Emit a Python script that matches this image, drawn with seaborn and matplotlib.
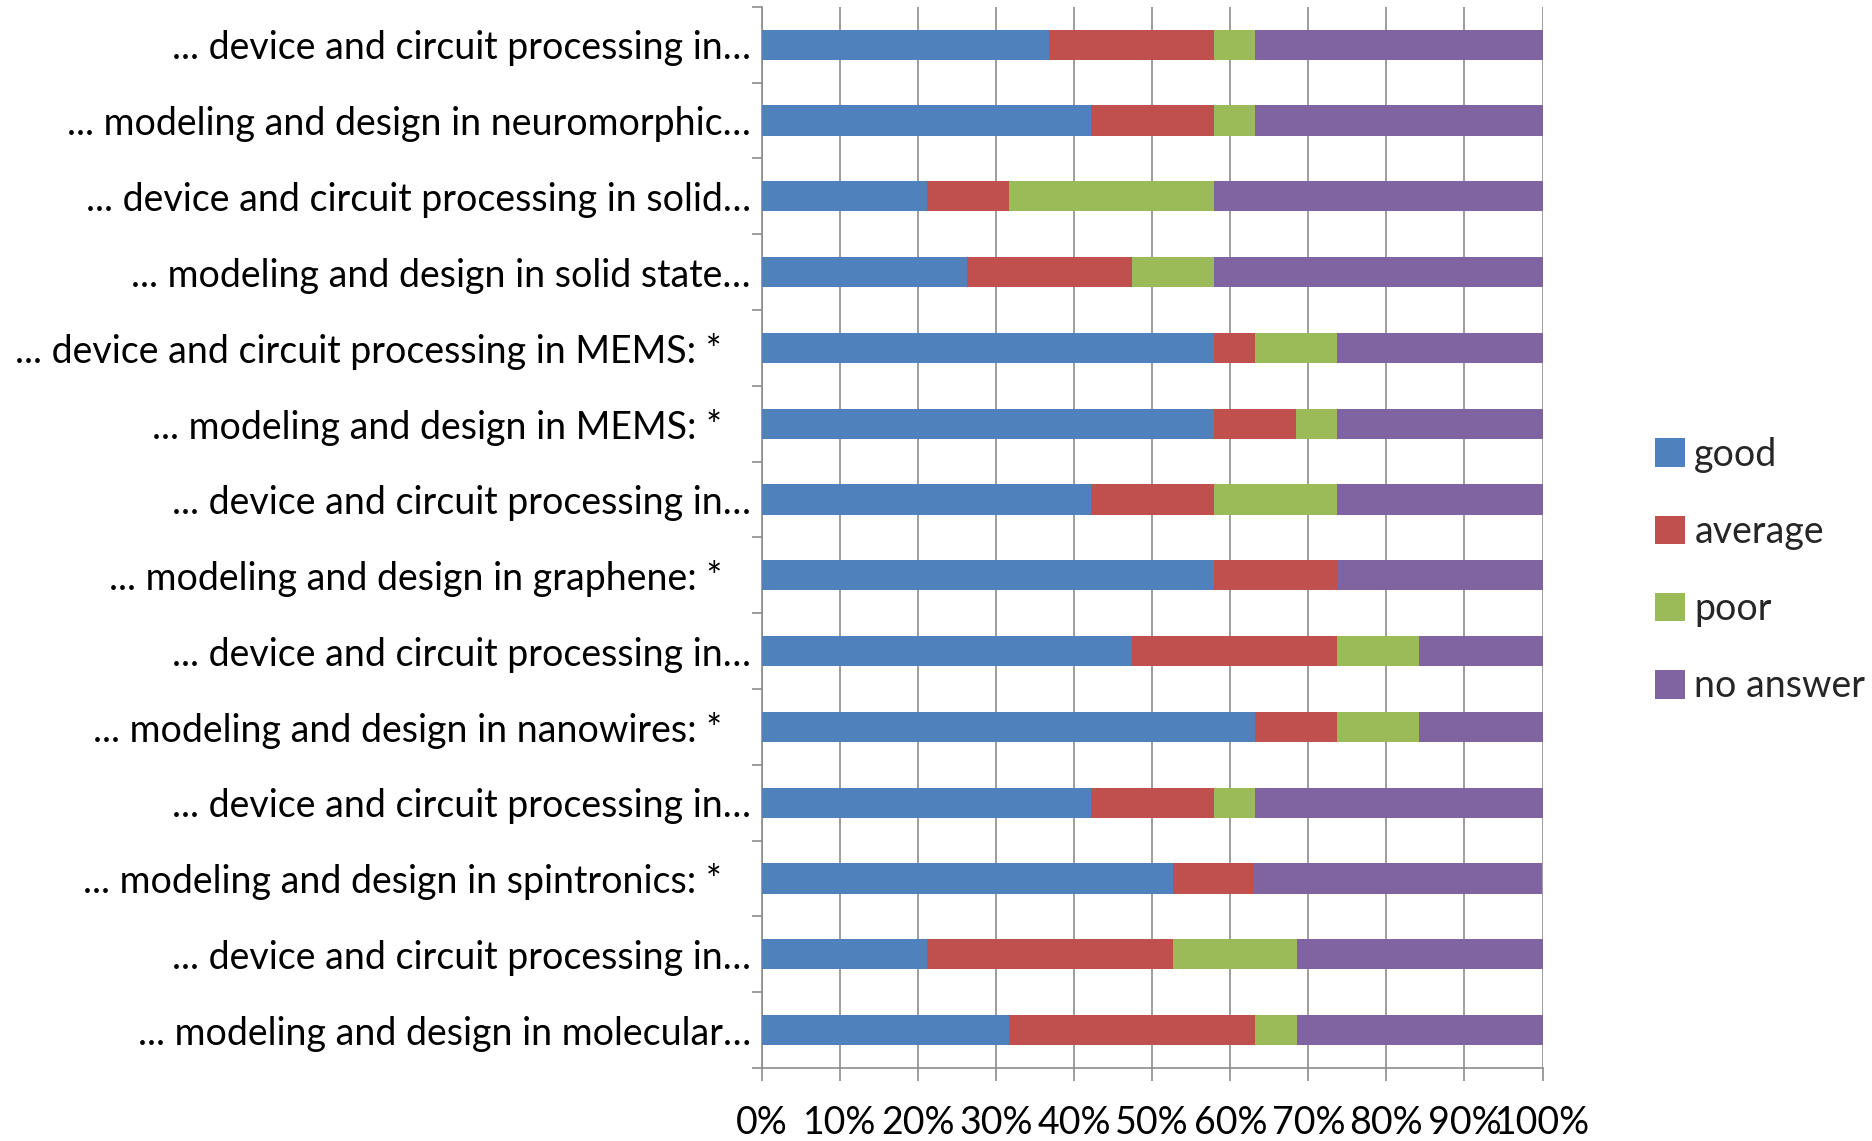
import matplotlib
matplotlib.use("Agg")
import matplotlib.pyplot as plt
import numpy as np
import pandas as pd
import seaborn as sns
from matplotlib.patches import Patch
from matplotlib.ticker import MultipleLocator, PercentFormatter

sns.set_theme(style="white")
plt.rcParams['font.family'] = ['Lato', 'DejaVu Sans']

labels = [
    "... device and circuit processing in\u2026",
    "... modeling and design in neuromorphic\u2026",
    "... device and circuit processing in solid\u2026",
    "... modeling and design in solid state\u2026",
    "... device and circuit processing in MEMS: *   ",
    "... modeling and design in MEMS: *   ",
    "... device and circuit processing in\u2026",
    "... modeling and design in graphene: *   ",
    "... device and circuit processing in\u2026",
    "... modeling and design in nanowires: *   ",
    "... device and circuit processing in\u2026",
    "... modeling and design in spintronics: *   ",
    "... device and circuit processing in\u2026",
    "... modeling and design in molecular\u2026",
]
good = [36.8, 42.1, 21.1, 26.3, 57.9, 57.9, 42.1, 57.9, 47.4, 63.2, 42.1, 52.6, 21.1, 31.6]
average = [21.1, 15.8, 10.5, 21.1, 5.3, 10.5, 15.8, 15.8, 26.3, 10.5, 15.8, 10.5, 31.6, 31.6]
poor = [5.3, 5.3, 26.3, 10.5, 10.5, 5.3, 15.8, 0.0, 10.5, 10.5, 5.3, 0.0, 15.8, 5.3]
no_answer = [36.8, 36.8, 42.1, 42.1, 26.3, 26.3, 26.3, 26.3, 15.8, 15.8, 36.8, 36.8, 31.6, 31.6]

series = ["good", "average", "poor", "no answer"]
colors = ["#4F81BD", "#C0504D", "#9BBB59", "#8064A2"]

df = pd.DataFrame({"row": np.arange(len(labels)), "good": good, "average": average,
                   "poor": poor, "no answer": no_answer})
cum = df[series].cumsum(axis=1)
cum["row"] = df["row"]

fig, ax = plt.subplots(figsize=(18.72, 11.41), dpi=100)
fig.subplots_adjust(left=0.407, right=0.824, top=0.994, bottom=0.064)

# draw cumulative totals back to front to get stacked bars
for name, col in reversed(list(zip(series, colors))):
    sns.barplot(data=cum, x=name, y="row", orient="h", color=col, width=0.4,
                linewidth=0, saturation=1, ax=ax, zorder=3)

ax.set_xlim(0, 100)
ax.set_ylim(len(labels) - 0.5, -0.5)
ax.xaxis.set_major_locator(MultipleLocator(10))
ax.xaxis.set_major_formatter(PercentFormatter(decimals=0))
ax.set_yticks(range(len(labels)))
ax.set_yticklabels(labels)
ax.set_yticks(np.arange(-0.5, len(labels), 1), minor=True)
ax.set_xlabel("")
ax.set_ylabel("")

ax.grid(axis="x", color="#8c8c8c", linewidth=1.2, zorder=0)
for s in ["top", "right"]:
    ax.spines[s].set_visible(False)
for s in ["left", "bottom"]:
    ax.spines[s].set_color("#8c8c8c")
    ax.spines[s].set_linewidth(1.2)

ax.tick_params(axis="x", which="major", length=9, width=1.2, color="#8c8c8c",
               labelsize=27, pad=18, labelcolor="black", bottom=True)
ax.tick_params(axis="y", which="major", length=0, labelsize=27, pad=8, labelcolor="black")
ax.tick_params(axis="y", which="minor", length=7, width=1.2, color="#8c8c8c", left=True)

handles = [Patch(facecolor=c, edgecolor="none", label=n) for n, c in zip(series, colors)]
fig.legend(handles=handles, loc="center left", bbox_to_anchor=(0.866, 0.5), frameon=False,
           fontsize=27, handlelength=0.8, handleheight=0.8, handletextpad=0.25,
           labelspacing=1.1)

fig.savefig("out.png", dpi=100)
